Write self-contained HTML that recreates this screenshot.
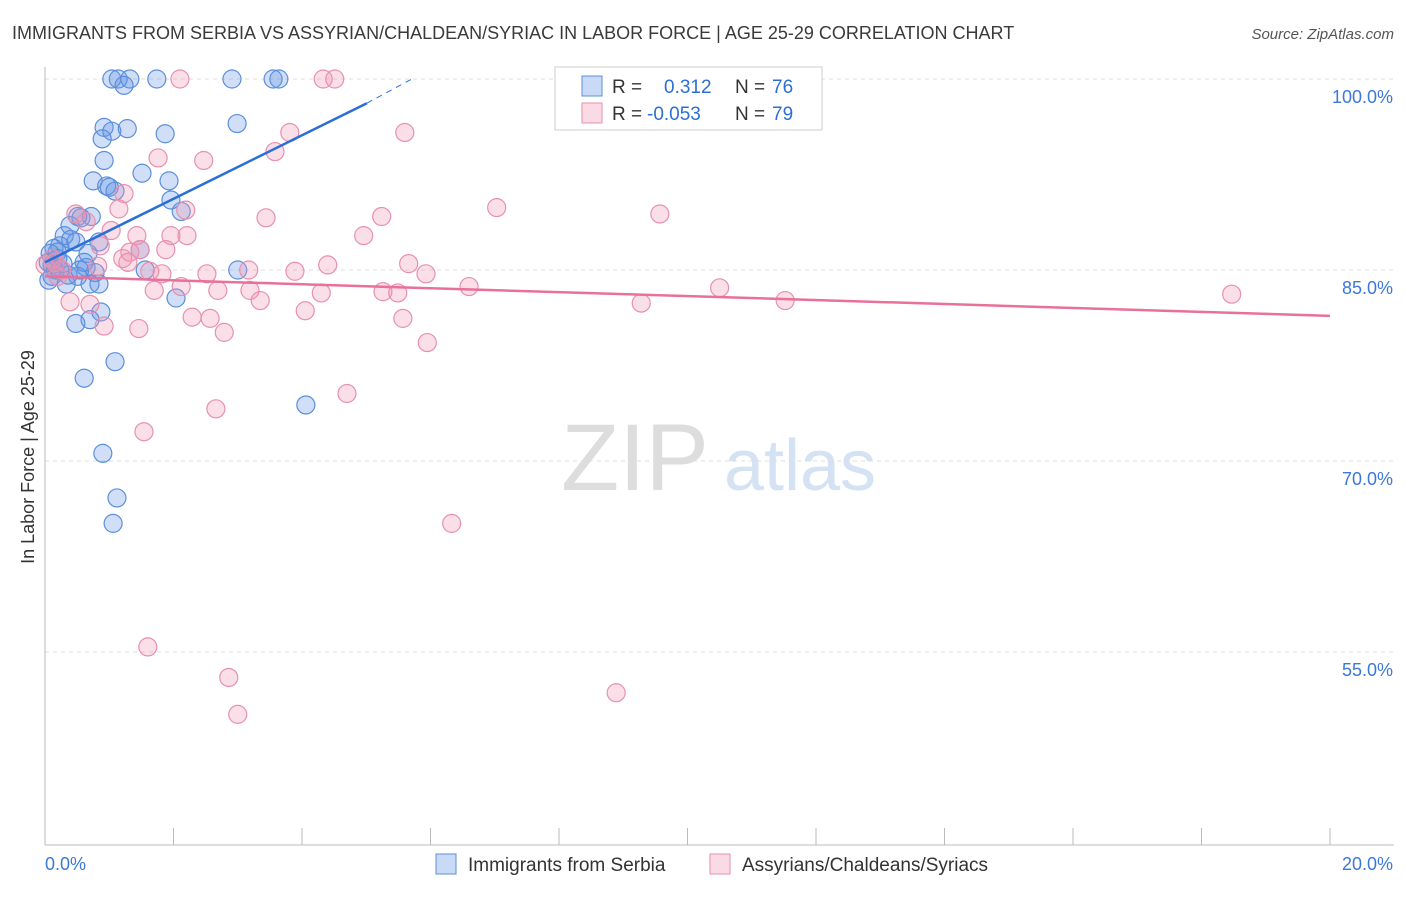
<!DOCTYPE html>
<html><head><meta charset="utf-8"><style>
body{margin:0;background:#fff;font-family:"Liberation Sans",sans-serif}
svg text{font-family:"Liberation Sans",sans-serif}
</style></head><body>
<svg id="chart" width="1406" height="892" xmlns="http://www.w3.org/2000/svg">
<text x="12" y="39" font-size="18" fill="#3a3a3a">IMMIGRANTS FROM SERBIA VS ASSYRIAN/CHALDEAN/SYRIAC IN LABOR FORCE | AGE 25-29 CORRELATION CHART</text>
<text x="1394" y="39" font-size="15" fill="#555" text-anchor="end" font-style="italic">Source: ZipAtlas.com</text>
<g>
<text x="635" y="490" font-size="95" fill="#ddd" font-family="Liberation Serif" text-anchor="middle">ZIP</text>
<text x="800" y="490" font-size="72" fill="#d4e2f4" text-anchor="middle">atlas</text>
</g>
<g id="grid"></g><g id="axes"></g><g id="pts"></g><g id="lines"></g>
<text transform="translate(34,457) rotate(-90)" font-size="18" fill="#333" text-anchor="middle">In Labor Force | Age 25-29</text>
<g>
<rect x="555" y="67" width="267" height="63" fill="#fff" stroke="#ccc"/>
<rect x="582" y="76" width="20" height="20" fill="rgba(100,150,230,0.35)" stroke="#5b8fdb"/>
<rect x="582" y="103" width="20" height="20" fill="rgba(240,150,180,0.35)" stroke="#e890ad"/>
<text x="612" y="93" font-size="19" fill="#333">R = </text><text x="664" y="93" font-size="19" fill="#2b6fd6">0.312</text>
<text x="735" y="93" font-size="19" fill="#333">N = </text><text x="772" y="93" font-size="19" fill="#2b6fd6">76</text>
<text x="612" y="120" font-size="19" fill="#333">R = </text><text x="647" y="120" font-size="19" fill="#2b6fd6">-0.053</text>
<text x="735" y="120" font-size="19" fill="#333">N = </text><text x="772" y="120" font-size="19" fill="#2b6fd6">79</text>
</g>
<g>
<rect x="436" y="854" width="20" height="20" fill="rgba(100,150,230,0.35)" stroke="#5b8fdb"/>
<text x="468" y="871" font-size="19" fill="#333">Immigrants from Serbia</text>
<rect x="710" y="854" width="20" height="20" fill="rgba(240,150,180,0.35)" stroke="#e890ad"/>
<text x="742" y="871" font-size="19" fill="#333">Assyrians/Chaldeans/Syriacs</text>
</g>
</svg>
<script>
const yTicks=[100,85,70,55];
const yTickLabels=["100.0%","85.0%","70.0%","55.0%"];
const xTicks=[0,2,4,6,8,10,12,14,16,18,20];
const serbiaX=[1.04,1.14,1.32,1.74,2.91,3.55,3.64,1.23,0.92,1.04,1.28,1.87,2.99,0.89,0.92,1.51,0.75,0.96,1.0,1.09,1.93,1.96,2.12,0.72,0.51,0.56,0.39,0.30,0.40,0.23,0.48,0.84,1.48,0.14,0.08,0.19,0.67,0.61,0.11,0.16,0.23,0.64,0.78,1.56,3.0,0.51,0.70,0.84,0.33,0.11,2.04,0.87,0.70,0.48,1.09,0.61,4.06,0.90,1.12,1.06,0.05,0.20,0.28,0.36,0.54,0.06];
const serbiaY=[100,100,100,100,100,100,100,99.5,96.2,95.9,96.1,95.7,96.5,95.3,93.6,92.6,92.0,91.6,91.5,91.2,92.0,90.5,89.6,89.2,89.2,89.1,88.5,87.7,87.4,86.9,87.2,87.2,86.6,86.7,86.3,86.4,86.3,85.6,85.4,85.0,85.0,85.2,84.8,85.0,85.0,84.5,83.9,83.9,83.9,84.5,82.8,81.7,81.1,80.8,77.8,76.5,74.4,70.6,67.1,65.1,85.6,85.9,85.5,84.6,85.0,84.2];
const assyrX=[2.10,4.33,4.51,11.0,3.81,5.60,3.58,1.76,2.47,1.23,1.15,2.19,3.44,5.24,7.03,9.57,0.48,0.64,1.03,1.96,2.21,1.43,4.96,0.86,1.32,1.48,1.88,1.21,1.29,0.82,1.63,1.82,2.52,3.17,3.89,4.40,5.66,5.93,2.12,1.70,2.69,3.19,4.30,3.35,5.26,5.49,6.60,10.5,0.39,0.70,9.28,11.52,18.47,2.29,2.57,4.05,5.57,0.92,1.46,2.79,5.95,4.70,2.66,1.54,6.33,1.60,2.86,8.89,3.0,0.16,0.26,0.11,0.20,0.0];
const assyrY=[100,100,100,100,95.8,95.8,94.3,93.8,93.6,91.0,89.8,89.7,89.1,89.2,89.9,89.4,89.4,88.8,88.1,87.7,87.7,87.7,87.7,86.9,86.4,86.6,86.6,85.9,85.6,85.3,84.9,84.7,84.7,85.0,84.9,85.4,85.5,84.7,83.7,83.4,83.4,83.4,83.2,82.6,83.3,83.2,83.7,83.6,82.5,82.3,82.4,82.6,83.1,81.3,81.2,81.8,81.2,80.6,80.4,80.1,79.3,75.3,74.1,72.3,65.1,55.4,53.0,51.8,50.1,85.6,85.0,85.9,84.5,85.4];
const serbiaTrend=[[0,85.6],[5.01,98.1]];
const serbiaTrendDash=[[5.01,98.1],[5.71,100]];
const assyrTrend=[[0,84.5],[20,81.4]];
const NS="http://www.w3.org/2000/svg";
const X=v=>45+v/20*1285, Y=v=>79+(100-v)/15*191;
function mk(t,a,p){const e=document.createElementNS(NS,t);for(const k in a)e.setAttribute(k,a[k]);p.appendChild(e);return e;}
const grid=document.getElementById('grid'),axes=document.getElementById('axes'),pts=document.getElementById('pts'),lines=document.getElementById('lines');
yTicks.forEach((t,i)=>{
 const l=mk('line',{x1:45,x2:1394,y1:Y(t),y2:Y(t),stroke:'#ddd','stroke-dasharray':'4,4'},grid);
 
 
 const tx=mk('text',{x:1393,y:Y(t)+24,'font-size':18,fill:'#3b78d8','text-anchor':'end'},axes);
 tx.textContent=yTickLabels[i];
 
 
});
const ya=mk('line',{x1:45,x2:45,y1:67,y2:845,stroke:'#bbb'},axes);


const xa=mk('line',{x1:45,x2:1394,y1:845,y2:845,stroke:'#bbb'},axes);


xTicks.forEach(t=>{
 const l=mk('line',{x1:X(t),x2:X(t),y1:828,y2:845,stroke:'#bbb'},axes);
 
 
});
[[0,'0.0%','start',45],[20,'20.0%','end',1393]].forEach(d=>{
 const tx=mk('text',{x:d[3],y:870,'font-size':18,fill:'#3b78d8','text-anchor':d[2]},axes);
 tx.textContent=d[1];
 
 
});
serbiaX.forEach((v,i)=>{
 const c=mk('circle',{cx:X(v),cy:Y(serbiaY[i]),r:9,fill:'rgba(100,150,230,0.3)',stroke:'#5b8fdb','stroke-width':1.2},pts);
 
 
});
assyrX.forEach((v,i)=>{
 const c=mk('circle',{cx:X(v),cy:Y(assyrY[i]),r:9,fill:'rgba(240,150,180,0.3)',stroke:'#e890ad','stroke-width':1.2},pts);
 
 
});
function ln(d,st,w,dash,name){const a={x1:X(d[0][0]),y1:Y(d[0][1]),x2:X(d[1][0]),y2:Y(d[1][1]),stroke:st,'stroke-width':w};if(dash)a['stroke-dasharray']=dash;const l=mk('line',a,lines);
 
 }
ln(serbiaTrend,'#2b6fd6',2.5,null,'serbia-trendline');
ln(serbiaTrendDash,'#2b6fd6',1,'6,5','serbia-trendline-extension');
ln(assyrTrend,'#e8709a',2.5,null,'assyrian-trendline');
</script>
</body></html>
